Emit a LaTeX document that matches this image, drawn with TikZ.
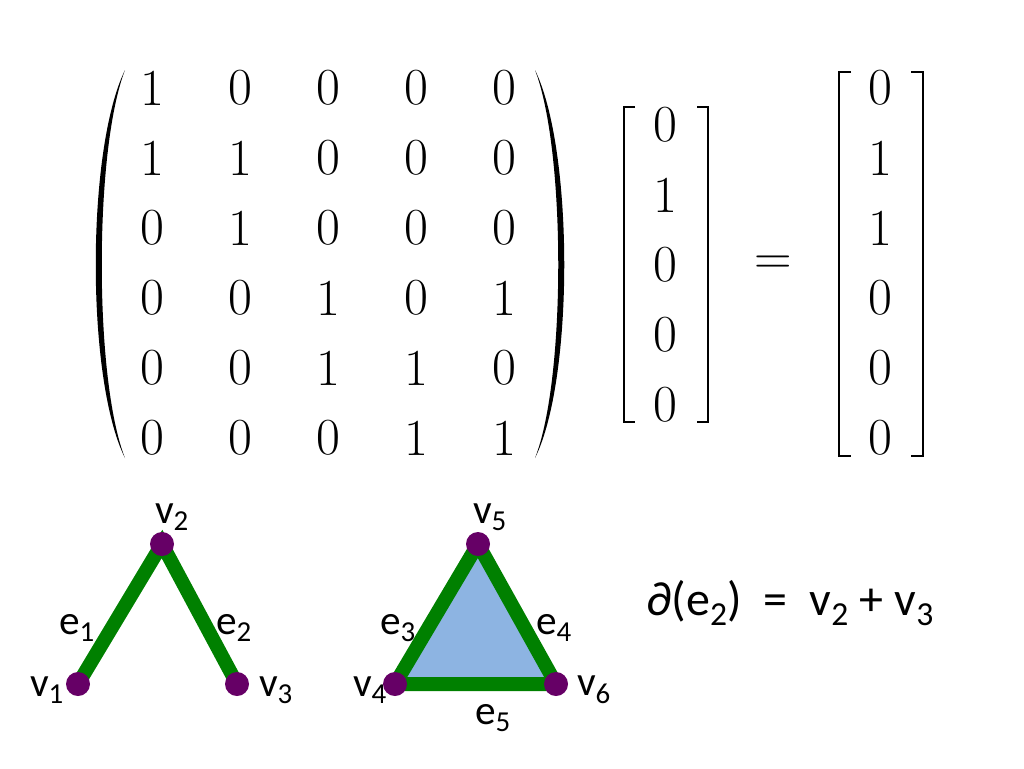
\documentclass[tikz,border=0pt]{standalone}
\usepackage{fontspec}
\newfontfamily\carlitofont{Carlito}
\begin{document}
\begin{tikzpicture}[x=0.75pt,y=-0.75pt]
\useasboundingbox (0,0) rectangle (1024,768);
\tikzset{ent/.style={font=\fontsize{39}{42}\selectfont},
 br/.style={line width=2.2pt},
 lab/.style={font=\carlitofont\fontsize{31}{34}\selectfont},
 vert/.style={circle,fill=violet!80!black,minimum size=18pt,inner sep=0pt},
 edg/.style={line width=10.5pt,draw={rgb,255:red,0;green,128;blue,0}}}
% matrix
\foreach \r [count=\i] in {{1,0,0,0,0},{1,1,0,0,0},{0,1,0,0,0},{0,0,1,0,1},{0,0,1,1,0},{0,0,0,1,1}}{
 \foreach \v [count=\j] in \r {
  \node[ent] (m\i\j) at ({152+88*(\j-1)},{88+70*(\i-1)}) {\v};}}
\fill (125,70) .. controls (86,150) and (86,380) .. (125,458) .. controls (94,380) and (94,150) .. (125,70);
\fill (535,70) .. controls (574,150) and (574,380) .. (535,458) .. controls (566,380) and (566,150) .. (535,70);
% vector x
\foreach \v [count=\i] in {0,1,0,0,0}{\node[ent] (x\i) at (665,{125+70*(\i-1)}) {\v};}
\draw[br] (635,107) -- (624,107) -- (624,422) -- (635,422);
\draw[br] (697,107) -- (708,107) -- (708,422) -- (697,422);
\node[ent] (eq) at (773,265) {=};
\foreach \v [count=\i] in {0,1,1,0,0,0}{\node[ent] (y\i) at (880,{88+70*(\i-1)}) {\v};}
\draw[br] (851,72) -- (839,72) -- (839,456) -- (851,456);
\draw[br] (911,72) -- (923,72) -- (923,456) -- (911,456);
% graphs
\coordinate (p1) at (78,684); \coordinate (p2) at (162,544); \coordinate (p3) at (237,684);
\coordinate (p4) at (395,684); \coordinate (p5) at (478,544); \coordinate (p6) at (556,684);
\fill[fill={rgb,255:red,141;green,180;blue,226}] (p4)--(p5)--(p6)--cycle;
\draw[edg,line cap=round] (p1)--(p2)--(p3);
\draw[edg,line join=round] (p4)--(p5)--(p6)--cycle;
\foreach \k in {1,...,6}{\node[vert] (v\k) at (p\k) {};}
\node[lab] (l2) at (172,517) {v\textsubscript{2}};
\node[lab] (l1) at (47,690) {v\textsubscript{1}};
\node[lab] (l3) at (276,690) {v\textsubscript{3}};
\node[lab] (l5) at (490,517) {v\textsubscript{5}};
\node[lab] (l4) at (370,690) {v\textsubscript{4}};
\node[lab] (l6) at (594,690) {v\textsubscript{6}};
\node[lab] (e1) at (77,628) {e\textsubscript{1}};
\node[lab] (e2) at (234,628) {e\textsubscript{2}};
\node[lab] (e3) at (398,628) {e\textsubscript{3}};
\node[lab] (e4) at (554,628) {e\textsubscript{4}};
\node[lab] (e5) at (493,718) {e\textsubscript{5}};
\node[lab,font=\carlitofont\fontsize{36}{40}\selectfont] (f) at (790,603) {∂(e\textsubscript{2})\ \ =\ \ v\textsubscript{2} + v\textsubscript{3}};
\end{tikzpicture}
\end{document}
